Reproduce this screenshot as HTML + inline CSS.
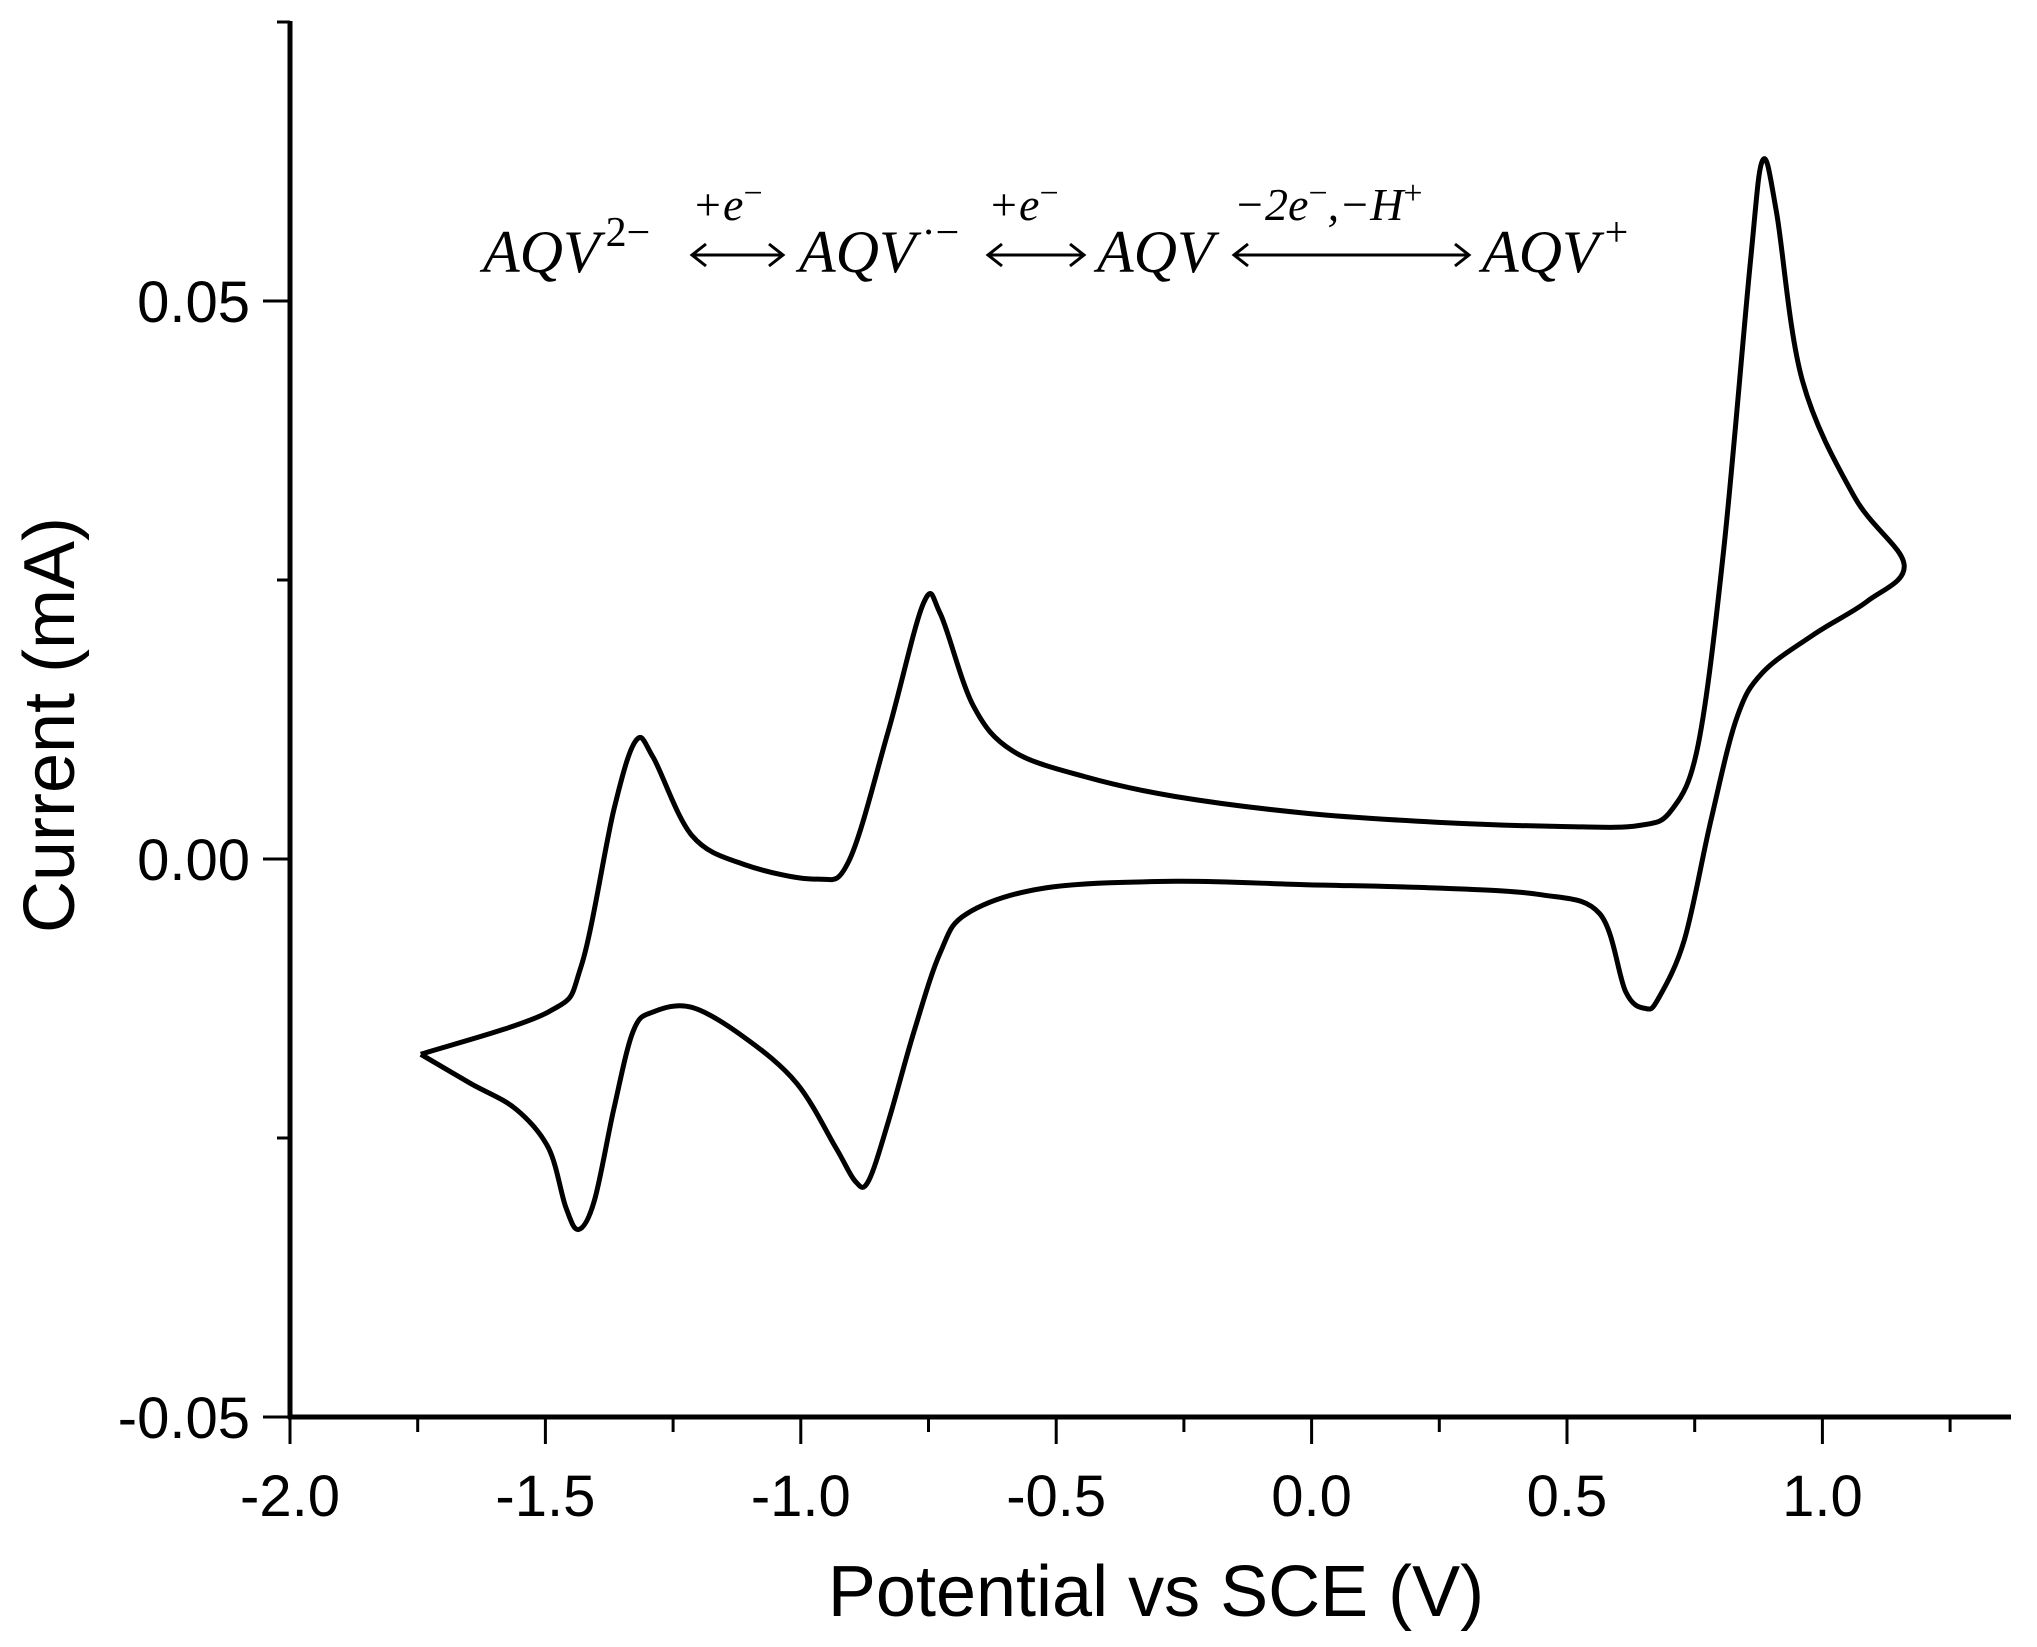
<!DOCTYPE html>
<html><head><meta charset="utf-8"><style>
html,body{margin:0;padding:0;background:#fff;}
svg{display:block;}
text{font-family:"Liberation Sans",Arial,sans-serif;fill:#000;}
.eq{font-family:"Liberation Serif","DejaVu Serif",serif;font-style:italic;}
</style></head><body>
<svg id="chart" width="2037" height="1647" viewBox="0 0 2037 1647" xmlns="http://www.w3.org/2000/svg">
<g id="axes"></g>
<path id="curve" fill="none" stroke="#000" stroke-width="5" stroke-linejoin="round"/>
<g>
<text class="eq" x="483" y="272" font-size="60">AQV<tspan dx="6" dy="-26" font-size="42" font-style="normal">2−</tspan></text>
<text class="eq" x="692" y="220" font-size="46">+e<tspan dy="-16" font-size="34" font-style="normal">−</tspan></text>
<text class="eq" x="799" y="272" font-size="60">AQV<tspan dx="6" dy="-26" font-size="42" font-style="normal">·−</tspan></text>
<text class="eq" x="988" y="220" font-size="46">+e<tspan dy="-16" font-size="34" font-style="normal">−</tspan></text>
<text class="eq" x="1097" y="272" font-size="60">AQV</text>
<text class="eq" x="1234" y="220" font-size="46">−2e<tspan dy="-16" font-size="34" font-style="normal">−</tspan><tspan dy="16">,−H</tspan><tspan dy="-16" font-size="34" font-style="normal">+</tspan></text>
<text class="eq" x="1482" y="272" font-size="60">AQV<tspan dx="6" dy="-26" font-size="42" font-style="normal">+</tspan></text>
<g stroke="#000" stroke-width="3" fill="none">
<g><line x1="692" y1="255" x2="783" y2="255"/><path d="M706 244 L692 255 L706 266"/><path d="M769 244 L783 255 L769 266"/></g>
<g><line x1="988" y1="255" x2="1084" y2="255"/><path d="M1002 244 L988 255 L1002 266"/><path d="M1070 244 L1084 255 L1070 266"/></g>
<g><line x1="1234" y1="255" x2="1469" y2="255"/><path d="M1248 244 L1234 255 L1248 266"/><path d="M1455 244 L1469 255 L1455 266"/></g>
</g>
</g>
<text x="1156" y="1616" font-size="72" text-anchor="middle">Potential vs SCE (V)</text>
<text transform="translate(50,725) rotate(-90)" font-size="72" text-anchor="middle" dominant-baseline="central">Current (mA)</text>
</svg>
<script>
const xTicks = [-2.0, -1.5, -1.0, -0.5, 0.0, 0.5, 1.0];
const xTickLabels = ["-2.0","-1.5","-1.0","-0.5","0.0","0.5","1.0"];
const yTicks = [-0.05, 0.0, 0.05];
const yTickLabels = ["-0.05","0.00","0.05"];
const potential = [-1.744,-1.494,-1.43,-1.366,-1.323,-1.289,-1.213,-1.11,-0.97,-0.906,-0.829,-0.76,-0.727,-0.663,-0.586,-0.446,-0.267,-0.011,0.244,0.5,0.641,0.705,0.757,0.807,0.859,0.883,0.91,0.96,1.062,1.16,
1.088,0.986,0.883,0.832,0.781,0.73,0.679,0.654,0.615,0.564,0.449,0.244,-0.011,-0.267,-0.522,-0.675,-0.727,-0.778,-0.829,-0.868,-0.893,-0.931,-1.008,-1.11,-1.213,-1.289,-1.328,-1.366,-1.404,-1.435,-1.46,-1.494,-1.558,-1.647,-1.744];
const current = [-0.0175,-0.0137,-0.0096,0.0044,0.0106,0.0091,0.0021,-0.0005,-0.0018,-0.0002,0.0114,0.0229,0.022,0.0138,0.0097,0.0074,0.0056,0.0041,0.0033,0.0029,0.0030,0.0044,0.0103,0.0278,0.0535,0.0626,0.058,0.043,0.0325,0.0264,
0.0231,0.0202,0.0167,0.0126,0.0033,-0.0072,-0.0125,-0.0134,-0.0119,-0.0049,-0.0032,-0.0026,-0.0023,-0.002,-0.0026,-0.0049,-0.0084,-0.0154,-0.0236,-0.0289,-0.0289,-0.0259,-0.0201,-0.016,-0.0133,-0.0137,-0.0154,-0.0224,-0.0306,-0.0332,-0.0312,-0.0259,-0.0224,-0.0201,-0.0175];

const X0=290, XPER=510.8, Y0=859, YPER=11160;
const xs = v => X0 + (v + 2) * XPER;
const ys = v => Y0 - v * YPER;
const NS='http://www.w3.org/2000/svg';
const axes=document.getElementById('axes');
function mk(tag, attrs){const e=document.createElementNS(NS,tag);for(const k in attrs)e.setAttribute(k,attrs[k]);axes.appendChild(e);return e;}
let e;
e=mk('line',{x1:290,y1:21,x2:290,y2:1419,stroke:'#000','stroke-width':5});


e=mk('line',{x1:288,y1:1417,x2:2011,y2:1417,stroke:'#000','stroke-width':5});


for(let v=-2;v<=1.26;v+=0.25){
  const major=Math.abs(v*2-Math.round(v*2))<1e-6;
  e=mk('line',{x1:xs(v),y1:1417,x2:xs(v),y2:1417+(major?27:15),stroke:'#000','stroke-width':3});
  
  
}
xTicks.forEach((v,i)=>{
  e=mk('text',{x:xs(v),y:1516,'font-size':58,'text-anchor':'middle'});
  e.textContent=xTickLabels[i];
  
  
});
for(let v=-0.05;v<=0.0751;v+=0.025){
  const major=Math.abs(v*20-Math.round(v*20))<1e-6;
  e=mk('line',{x1:290,y1:ys(v),x2:290-(major?27:13),y2:ys(v),stroke:'#000','stroke-width':3});
  
  
}
yTicks.forEach((v,i)=>{
  e=mk('text',{x:250,y:ys(v)+21,'font-size':58,'text-anchor':'end'});
  e.textContent=yTickLabels[i];
  
  
});
const pts=potential.map((p,i)=>[xs(p),ys(current[i])]);
let d='M'+pts[0][0].toFixed(1)+' '+pts[0][1].toFixed(1);
for(let i=0;i<pts.length-1;i++){
  const p0=pts[Math.max(0,i-1)],p1=pts[i],p2=pts[i+1],p3=pts[Math.min(pts.length-1,i+2)];
  const t=1/6;
  const c1=[p1[0]+(p2[0]-p0[0])*t,p1[1]+(p2[1]-p0[1])*t];
  const c2=[p2[0]-(p3[0]-p1[0])*t,p2[1]-(p3[1]-p1[1])*t];
  d+=` C${c1[0].toFixed(1)} ${c1[1].toFixed(1)} ${c2[0].toFixed(1)} ${c2[1].toFixed(1)} ${p2[0].toFixed(1)} ${p2[1].toFixed(1)}`;
}
document.getElementById('curve').setAttribute('d',d);
</script>
</body></html>
